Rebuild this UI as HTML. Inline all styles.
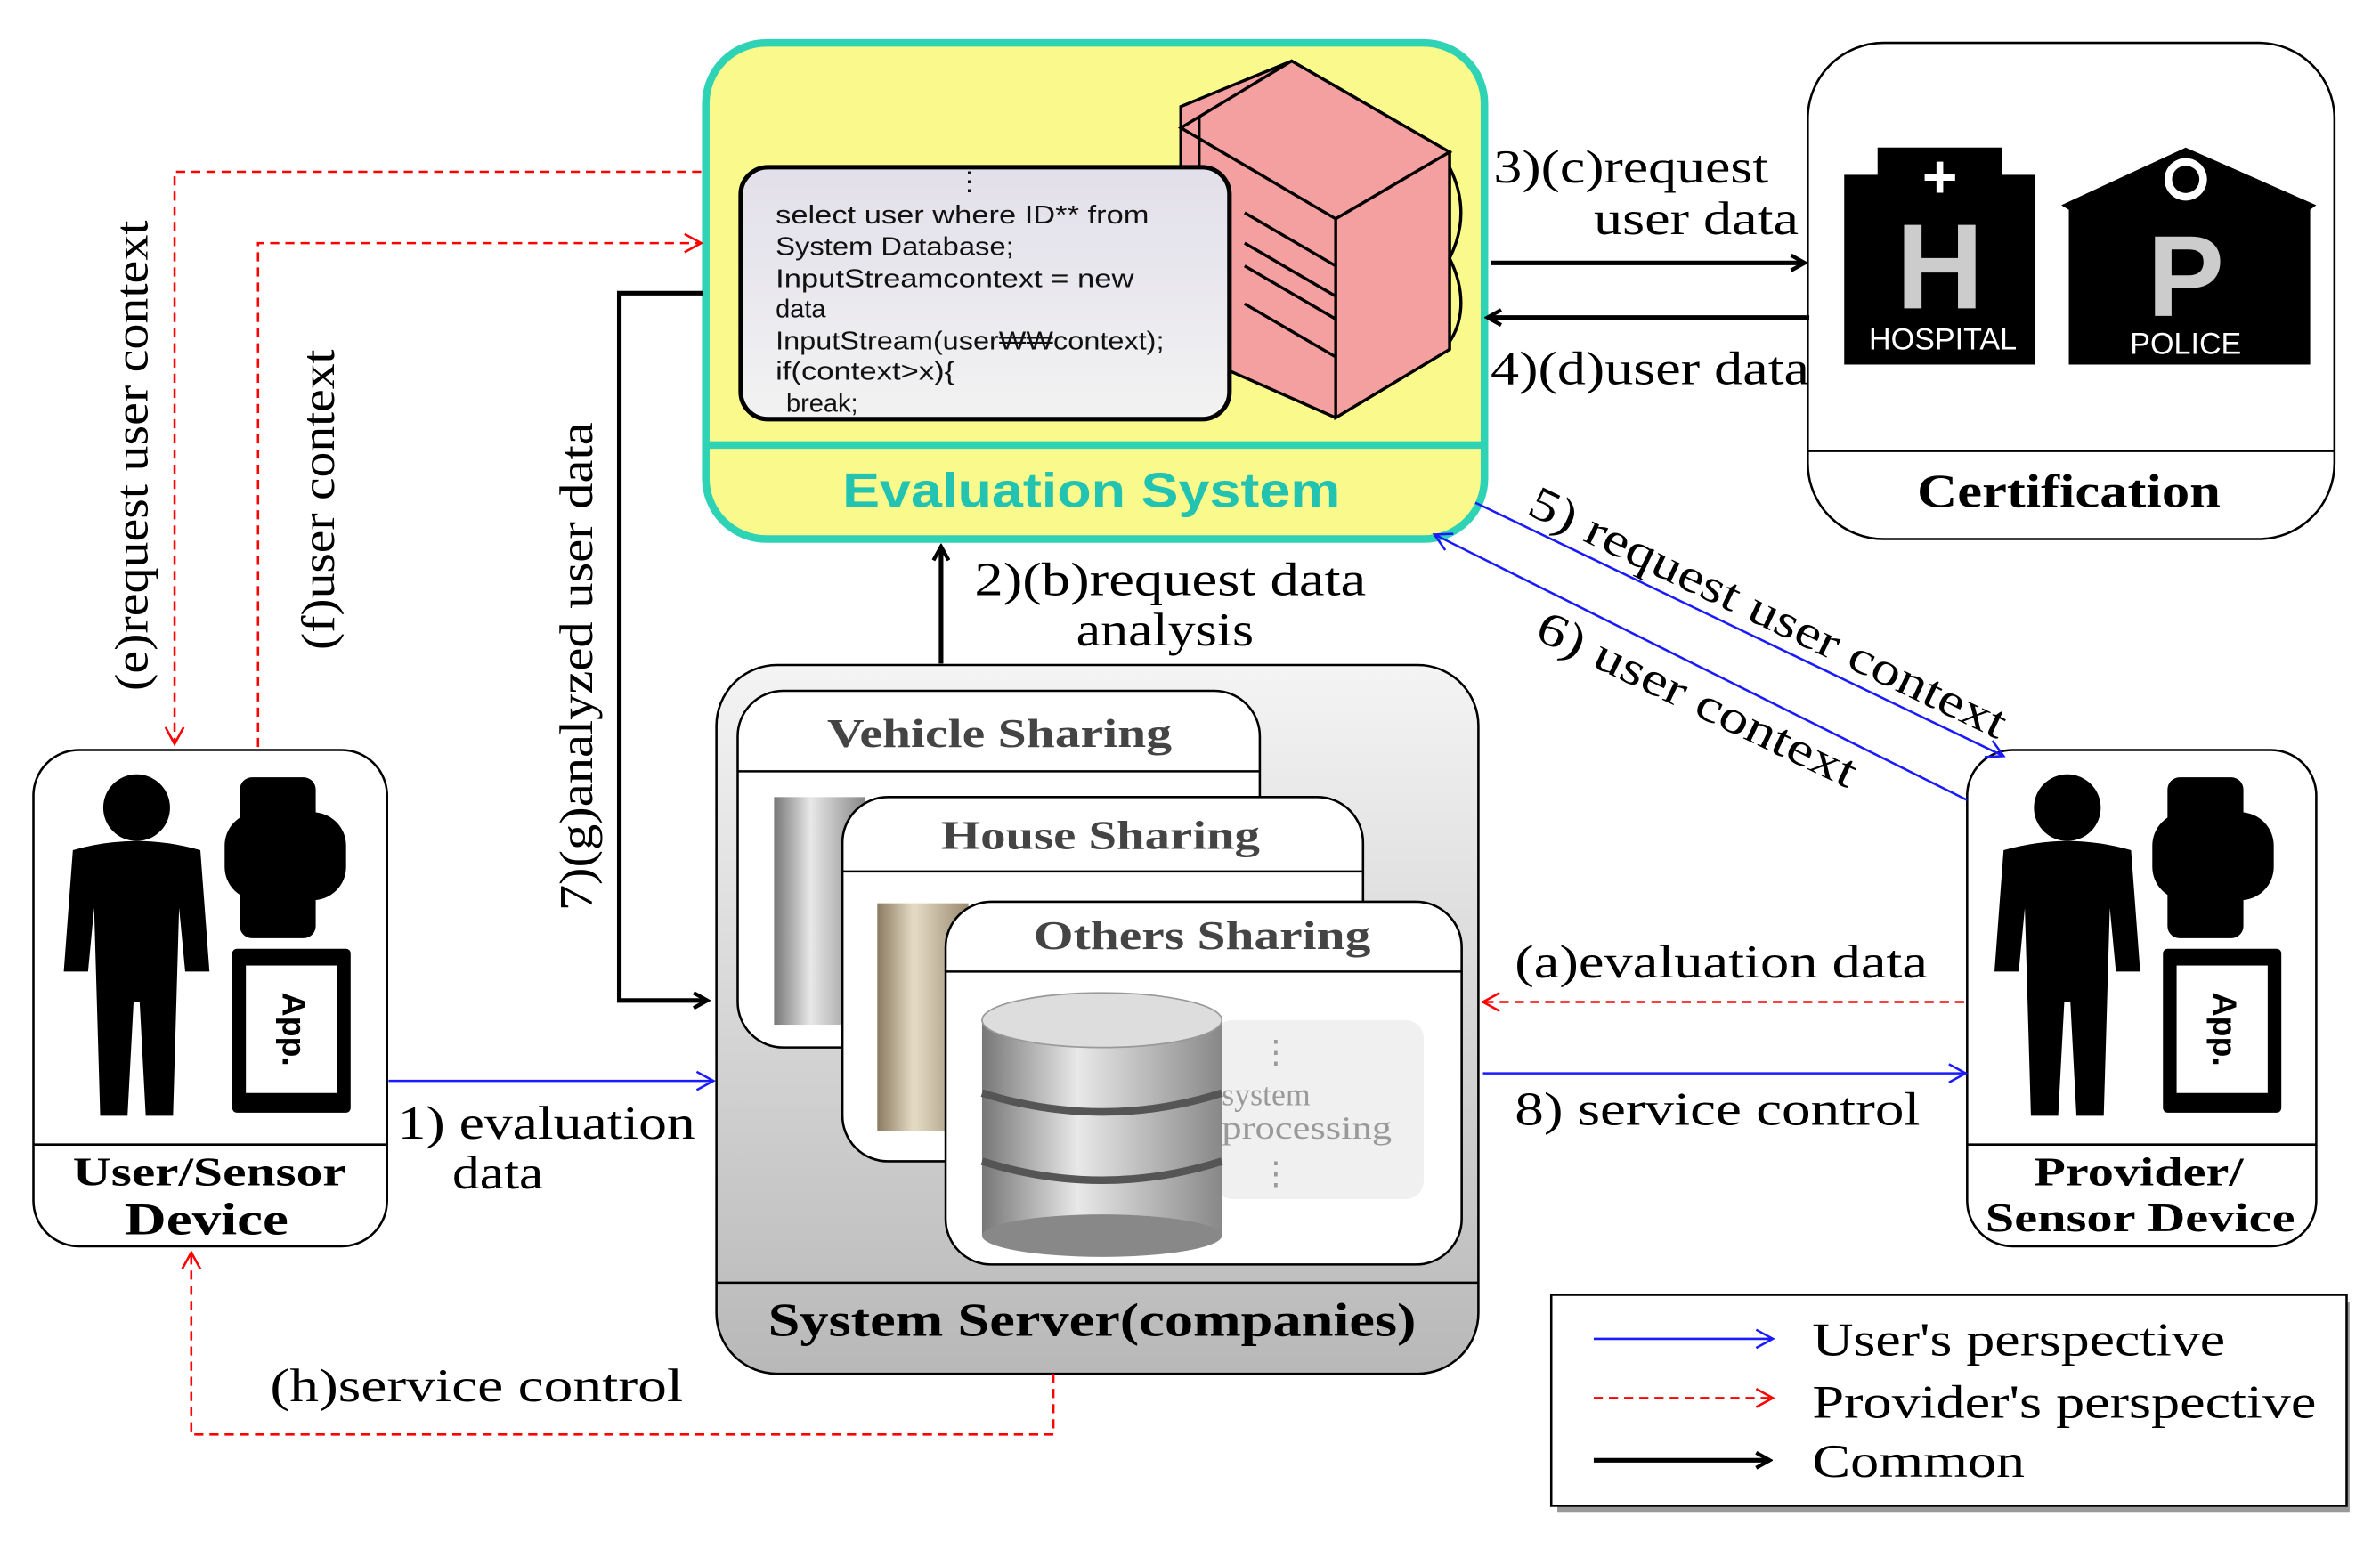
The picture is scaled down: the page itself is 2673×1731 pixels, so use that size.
<!DOCTYPE html>
<html><head><meta charset="utf-8"><style>
html,body{margin:0;padding:0;background:#fff;}
svg{display:block;}
.s{font-family:"Liberation Serif",serif;fill:#000;}
.b{font-family:"Liberation Serif",serif;font-weight:bold;fill:#000;}
.a{font-family:"Liberation Sans",sans-serif;}
</style></head><body>
<svg width="2673" height="1731" viewBox="0 0 1568 1015" xmlns="http://www.w3.org/2000/svg">
<defs>
<marker id="ab" markerWidth="12" markerHeight="12" refX="10" refY="6" orient="auto" markerUnits="userSpaceOnUse"><path d="M1,1 L10,6 L1,11" fill="none" stroke="#000" stroke-width="2.5"/></marker>
<marker id="abl" markerWidth="14" markerHeight="14" refX="12" refY="7" orient="auto" markerUnits="userSpaceOnUse"><path d="M1,1 L12,7 L1,13" fill="none" stroke="#1a1aff" stroke-width="1.5"/></marker>
<marker id="ar" markerWidth="14" markerHeight="14" refX="12" refY="7" orient="auto" markerUnits="userSpaceOnUse"><path d="M1,1 L12,7 L1,13" fill="none" stroke="#f00" stroke-width="1.5"/></marker>
<linearGradient id="gs" x1="0" y1="0" x2="0" y2="1"><stop offset="0" stop-color="#f4f4f4"/><stop offset="1" stop-color="#b8b8b8"/></linearGradient>
<linearGradient id="gc" x1="0" y1="0" x2="0" y2="1"><stop offset="0" stop-color="#e2dfea"/><stop offset="1" stop-color="#f2f2f2"/></linearGradient>
<linearGradient id="db" x1="0" y1="0" x2="1" y2="0"><stop offset="0" stop-color="#777"/><stop offset=".4" stop-color="#e8e8e8"/><stop offset="1" stop-color="#888"/></linearGradient>
<linearGradient id="dt" x1="0" y1="0" x2="1" y2="0"><stop offset="0" stop-color="#8a7a60"/><stop offset=".4" stop-color="#e6dcc6"/><stop offset="1" stop-color="#9a8a70"/></linearGradient>
</defs>

<!-- Evaluation system -->
<rect x="465" y="28" width="513" height="327" rx="40" fill="#fafa8c" stroke="#2ed3b6" stroke-width="5"/>
<line x1="465" y1="293" x2="978" y2="293" stroke="#2ed3b6" stroke-width="5"/>
<text x="555" y="334" textLength="328" lengthAdjust="spacingAndGlyphs" class="a" font-size="32" font-weight="bold" fill="#22c3b0">Evaluation  System</text>
<!-- rack -->
<g stroke="#000" stroke-width="2" fill="#f4a0a0">
<polygon points="778,70 851,40 955,100 955,230 880,275 778,230"/>
<polygon points="851,40 955,100 880,144 778,84" />
<polygon points="880,144 955,100 955,230 880,275"/>
<line x1="778" y1="70" x2="778" y2="230"/><line x1="790" y1="76" x2="790" y2="230"/>
<line x1="820" y1="200" x2="880" y2="235"/><line x1="820" y1="160" x2="880" y2="195"/><line x1="820" y1="140" x2="880" y2="175"/><line x1="820" y1="175" x2="880" y2="210"/>
<path d="M955,110 C965,130 965,150 955,170 C965,190 965,210 955,225" fill="none"/>
</g>
<rect x="488" y="110" width="322" height="166" rx="18" fill="url(#gc)" stroke="#000" stroke-width="3"/>
<g class="a" font-size="17" fill="#111">
<text x="630" y="125">⋮</text>
<text x="511" y="147" textLength="246" lengthAdjust="spacingAndGlyphs">select user where ID** from</text>
<text x="511" y="168" textLength="157" lengthAdjust="spacingAndGlyphs">System Database;</text>
<text x="511" y="189" textLength="236" lengthAdjust="spacingAndGlyphs">InputStreamcontext = new</text>
<text x="511" y="209">data</text>
<text x="511" y="230" textLength="256" lengthAdjust="spacingAndGlyphs">InputStream(user₩₩context);</text>
<text x="511" y="250" textLength="118" lengthAdjust="spacingAndGlyphs">if(context&gt;x){</text>
<text x="518" y="271">break;</text>
</g>

<!-- Certification -->
<rect x="1191" y="28" width="347" height="327" rx="50" fill="#fff" stroke="#000" stroke-width="1.5"/>
<line x1="1191" y1="297" x2="1538" y2="297" stroke="#000" stroke-width="1.5"/>
<text x="1263" y="334" textLength="200" lengthAdjust="spacingAndGlyphs" class="b" font-size="31">Certification</text>
<rect x="1215" y="115" width="126" height="125" fill="#000"/>
<rect x="1237" y="97" width="82" height="20" fill="#000"/>
<text x="1278" y="203" text-anchor="middle" class="a" font-size="80" font-weight="bold" fill="#ccc">H</text>
<text x="1278" y="130" text-anchor="middle" class="a" font-size="40" font-weight="bold" fill="#fff">+</text>
<text x="1280" y="230" text-anchor="middle" class="a" font-size="20" fill="#fff">HOSPITAL</text>
<polygon points="1358,135 1440,97 1526,135 1522,138 1522,240 1363,240 1363,138" fill="#000"/>
<circle cx="1440" cy="118" r="14" fill="#fff"/><circle cx="1440" cy="118" r="9" fill="#000"/>
<text x="1440" y="208" text-anchor="middle" class="a" font-size="76" font-weight="bold" fill="#ccc">P</text>
<text x="1440" y="233" text-anchor="middle" class="a" font-size="20" fill="#fff">POLICE</text>

<!-- User/Sensor device -->
<rect x="22" y="494" width="233" height="327" rx="30" fill="#fff" stroke="#000" stroke-width="1.5"/>
<line x1="22" y1="754" x2="255" y2="754" stroke="#000" stroke-width="1.5"/>
<text x="48" y="781" textLength="180" lengthAdjust="spacingAndGlyphs" class="b" font-size="27">User/Sensor</text>
<text x="82" y="813" textLength="108" lengthAdjust="spacingAndGlyphs" class="b" font-size="30">Device</text>
<g fill="#000">
<circle cx="90" cy="532" r="22"/>
<path d="M48,560 Q90,548 132,560 L138,640 L122,640 L118,598 L114,735 L96,735 L92,660 L88,660 L84,735 L66,735 L62,598 L58,640 L42,640 Z"/>
<rect x="158" y="512" width="50" height="106" rx="8"/>
<rect x="148" y="535" width="80" height="58" rx="22"/>
<rect x="153" y="625" width="78" height="108" rx="3"/>
</g>
<rect x="162" y="636" width="60" height="84" fill="#fff"/>
<text x="192" y="678" text-anchor="middle" transform="rotate(90 192 678)" class="a" font-size="22" font-weight="bold" dominant-baseline="middle">App.</text>

<!-- Provider device -->
<rect x="1296" y="494" width="230" height="327" rx="30" fill="#fff" stroke="#000" stroke-width="1.5"/>
<line x1="1296" y1="754" x2="1526" y2="754" stroke="#000" stroke-width="1.5"/>
<text x="1340" y="781" textLength="138" lengthAdjust="spacingAndGlyphs" class="b" font-size="27">Provider/</text>
<text x="1308" y="811" textLength="204" lengthAdjust="spacingAndGlyphs" class="b" font-size="27">Sensor Device</text>
<g fill="#000">
<circle cx="1362" cy="532" r="22"/>
<path d="M1320,560 Q1362,548 1404,560 L1410,640 L1394,640 L1390,598 L1386,735 L1368,735 L1364,660 L1360,660 L1356,735 L1338,735 L1334,598 L1330,640 L1314,640 Z"/>
<rect x="1428" y="512" width="50" height="106" rx="8"/>
<rect x="1418" y="535" width="80" height="58" rx="22"/>
<rect x="1425" y="625" width="78" height="108" rx="3"/>
</g>
<rect x="1434" y="636" width="60" height="84" fill="#fff"/>
<text x="1464" y="678" text-anchor="middle" transform="rotate(90 1464 678)" class="a" font-size="22" font-weight="bold" dominant-baseline="middle">App.</text>

<!-- System server -->
<rect x="472" y="438" width="502" height="467" rx="40" fill="url(#gs)" stroke="#000" stroke-width="1.5"/>
<line x1="472" y1="845" x2="974" y2="845" stroke="#000" stroke-width="1.5"/>
<text x="506" y="880" textLength="427" lengthAdjust="spacingAndGlyphs" class="b" font-size="31">System  Server(companies)</text>
<rect x="486" y="455" width="344" height="235" rx="30" fill="#fff" stroke="#000" stroke-width="1.5"/>
<line x1="486" y1="508" x2="830" y2="508" stroke="#000" stroke-width="1.5"/>
<text x="545" y="492" textLength="227" lengthAdjust="spacingAndGlyphs" class="b" font-size="27" style="fill:#444">Vehicle Sharing</text>
<rect x="510" y="525" width="60" height="150" fill="url(#db)"/>
<rect x="555" y="525" width="343" height="240" rx="30" fill="#fff" stroke="#000" stroke-width="1.5"/>
<line x1="555" y1="574" x2="898" y2="574" stroke="#000" stroke-width="1.5"/>
<text x="620" y="559" textLength="210" lengthAdjust="spacingAndGlyphs" class="b" font-size="27" style="fill:#444">House Sharing</text>
<rect x="578" y="595" width="60" height="150" fill="url(#dt)"/>
<rect x="623" y="594" width="340" height="239" rx="30" fill="#fff" stroke="#000" stroke-width="1.5"/>
<line x1="623" y1="640" x2="963" y2="640" stroke="#000" stroke-width="1.5"/>
<text x="681" y="625" textLength="222" lengthAdjust="spacingAndGlyphs" class="b" font-size="27" style="fill:#444">Others Sharing</text>
<rect x="800" y="672" width="138" height="118" rx="12" fill="#f0f0f0"/>
<g class="s" font-size="21" style="fill:#999"><text x="830" y="700">⋮</text><text x="805" y="728">system</text><text x="805" y="750" textLength="112" lengthAdjust="spacingAndGlyphs">processing</text><text x="830" y="780">⋮</text></g>
<rect x="647" y="672" width="158" height="142" fill="url(#db)"/>
<ellipse cx="726" cy="814" rx="79" ry="14" fill="#888"/>
<ellipse cx="726" cy="672" rx="79" ry="18" fill="#ddd" stroke="#999"/>
<g stroke="#555" stroke-width="5" fill="none"><path d="M647,720 Q726,745 805,720"/><path d="M647,765 Q726,790 805,765"/></g>

<!-- Legend -->
<rect x="1026" y="858" width="522" height="138" fill="#999"/>
<rect x="1022" y="853" width="524" height="139" fill="#fff" stroke="#000" stroke-width="1.5"/>
<line x1="1050" y1="882" x2="1168" y2="882" stroke="#1a1aff" stroke-width="1.5" marker-end="url(#abl)"/>
<line x1="1050" y1="921" x2="1168" y2="921" stroke="#f00" stroke-width="1.5" stroke-dasharray="6,4" marker-end="url(#ar)"/>
<line x1="1050" y1="962" x2="1166" y2="962" stroke="#000" stroke-width="3" marker-end="url(#ab)"/>
<g class="s" font-size="31"><text x="1194" y="893" textLength="272" lengthAdjust="spacingAndGlyphs">User's perspective</text><text x="1194" y="934" textLength="332" lengthAdjust="spacingAndGlyphs">Provider's perspective</text><text x="1194" y="973" textLength="140" lengthAdjust="spacingAndGlyphs">Common</text></g>

<!-- Connectors -->
<polyline points="462,113 115,113 115,490" fill="none" stroke="#f00" stroke-width="1.5" stroke-dasharray="6,4" marker-end="url(#ar)"/>
<polyline points="170,492 170,160 462,160" fill="none" stroke="#f00" stroke-width="1.5" stroke-dasharray="6,4" marker-end="url(#ar)"/>
<polyline points="463,193 408,193 408,659 466,659" fill="none" stroke="#000" stroke-width="3" marker-end="url(#ab)"/>
<line x1="620" y1="437" x2="620" y2="360" stroke="#000" stroke-width="3" marker-end="url(#ab)"/>
<line x1="982" y1="173" x2="1189" y2="173" stroke="#000" stroke-width="3" marker-end="url(#ab)"/>
<line x1="1192" y1="209" x2="980" y2="209" stroke="#000" stroke-width="3" marker-end="url(#ab)"/>
<line x1="972" y1="331" x2="1320" y2="498" stroke="#1a1aff" stroke-width="1.5" marker-end="url(#abl)"/>
<line x1="1296" y1="527" x2="945" y2="352" stroke="#1a1aff" stroke-width="1.5" marker-end="url(#abl)"/>
<line x1="1294" y1="660" x2="977" y2="660" stroke="#f00" stroke-width="1.5" stroke-dasharray="6,4" marker-end="url(#ar)"/>
<line x1="977" y1="707" x2="1295" y2="707" stroke="#1a1aff" stroke-width="1.5" marker-end="url(#abl)"/>
<line x1="256" y1="712" x2="470" y2="712" stroke="#1a1aff" stroke-width="1.5" marker-end="url(#abl)"/>
<polyline points="694,905 694,945 126,945 126,825" fill="none" stroke="#f00" stroke-width="1.5" stroke-dasharray="6,4" marker-end="url(#ar)"/>

<!-- Labels -->
<g class="s" font-size="31">
<text x="984" y="120" textLength="181" lengthAdjust="spacingAndGlyphs">3)(c)request</text>
<text x="1050" y="154" textLength="135" lengthAdjust="spacingAndGlyphs">user data</text>
<text x="982" y="253" textLength="210" lengthAdjust="spacingAndGlyphs">4)(d)user data</text>
<text x="642" y="392" textLength="258" lengthAdjust="spacingAndGlyphs">2)(b)request data</text>
<text x="709" y="425" textLength="117" lengthAdjust="spacingAndGlyphs">analysis</text>
<text x="262" y="750" textLength="196" lengthAdjust="spacingAndGlyphs">1) evaluation</text>
<text x="298" y="783" textLength="60" lengthAdjust="spacingAndGlyphs">data</text>
<text x="998" y="644" textLength="272" lengthAdjust="spacingAndGlyphs">(a)evaluation data</text>
<text x="998" y="741" textLength="267" lengthAdjust="spacingAndGlyphs">8) service control</text>
<text x="178" y="923" textLength="272" lengthAdjust="spacingAndGlyphs">(h)service control</text>
<text transform="translate(1005,338) rotate(25.6)" textLength="345" lengthAdjust="spacingAndGlyphs">5) request user context</text>
<text transform="translate(1010,420) rotate(25.6)" textLength="230" lengthAdjust="spacingAndGlyphs">6) user context</text>
<text transform="translate(97,455) rotate(-90)" textLength="310" lengthAdjust="spacingAndGlyphs">(e)request user context</text>
<text transform="translate(220,428) rotate(-90)" textLength="198" lengthAdjust="spacingAndGlyphs">(f)user context</text>
<text transform="translate(390,600) rotate(-90)" textLength="322" lengthAdjust="spacingAndGlyphs">7)(g)analyzed user data</text>
</g>
</svg>
</body></html>
